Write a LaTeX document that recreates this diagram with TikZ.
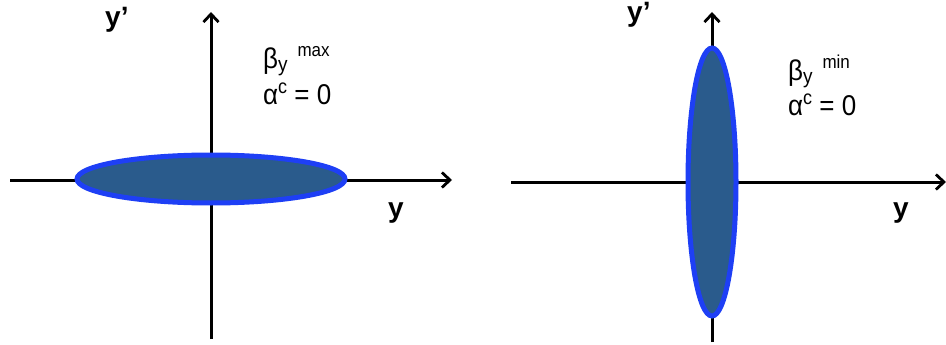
\documentclass[tikz,border=0pt]{standalone}
\usepackage{fontspec}
\setmainfont{Liberation Sans}
\usetikzlibrary{arrows.meta}
\definecolor{ellfill}{HTML}{2A5B8C}
\definecolor{elldraw}{HTML}{1E3FF5}
\tikzset{
  axis/.style={line width=3pt, -{Straight Barb[length=8pt,width=15pt,line width=2.8pt]}},
  beam/.style={fill=ellfill, draw=elldraw, line width=5pt},
  axlabel/.style={font=\fontsize{28}{29}\selectfont\bfseries, anchor=base west, inner sep=0pt},
  param/.style={font=\fontsize{26}{28}\selectfont, anchor=base west, inner sep=0pt}
}
\newcommand{\betalabel}[1]{\scalebox{1}[1.1]{β\raisebox{-0.1em}{\fontsize{19}{20}\selectfont y}\hspace{0.38em}\raisebox{0.45em}{\fontsize{17}{18}\selectfont #1}}}
\newcommand{\alphalabel}{\scalebox{1}[1.1]{α\raisebox{0.36em}{\fontsize{18}{18}\selectfont c} = 0}}
\begin{document}
\begin{tikzpicture}[x=1pt,y=-1pt]
\useasboundingbox (0,0) rectangle (946,345);
% left panel
\coordinate (lx0) at (10,180);
\coordinate (lx1) at (452,180);
\coordinate (ly0) at (211,339);
\coordinate (ly1) at (211,12);
\draw[axis] (lx0) -- (lx1);
\draw[axis] (ly0) -- (ly1);
\draw[beam] (211,179) ellipse [x radius=134, y radius=24];
\node[axlabel] (lyp) at (105,27) {y’};
\node[axlabel] (lyl) at (388,217) {y};
\node[param] (lb) at (263,69) {\betalabel{max}};
\node[param] (la) at (263,104) {\alphalabel};
% right panel
\coordinate (rx0) at (511,182);
\coordinate (rx1) at (946,182);
\coordinate (ry0) at (712,342);
\coordinate (ry1) at (712,12);
\draw[axis] (rx0) -- (rx1);
\draw[axis] (ry0) -- (ry1);
\draw[beam] (712,182) ellipse [x radius=24, y radius=134];
\node[axlabel] (ryp) at (627,22) {y’};
\node[axlabel] (ryl) at (893,217) {y};
\node[param] (rb) at (788,81) {\betalabel{min}};
\node[param] (ra) at (788,115) {\alphalabel};
\end{tikzpicture}
\end{document}
